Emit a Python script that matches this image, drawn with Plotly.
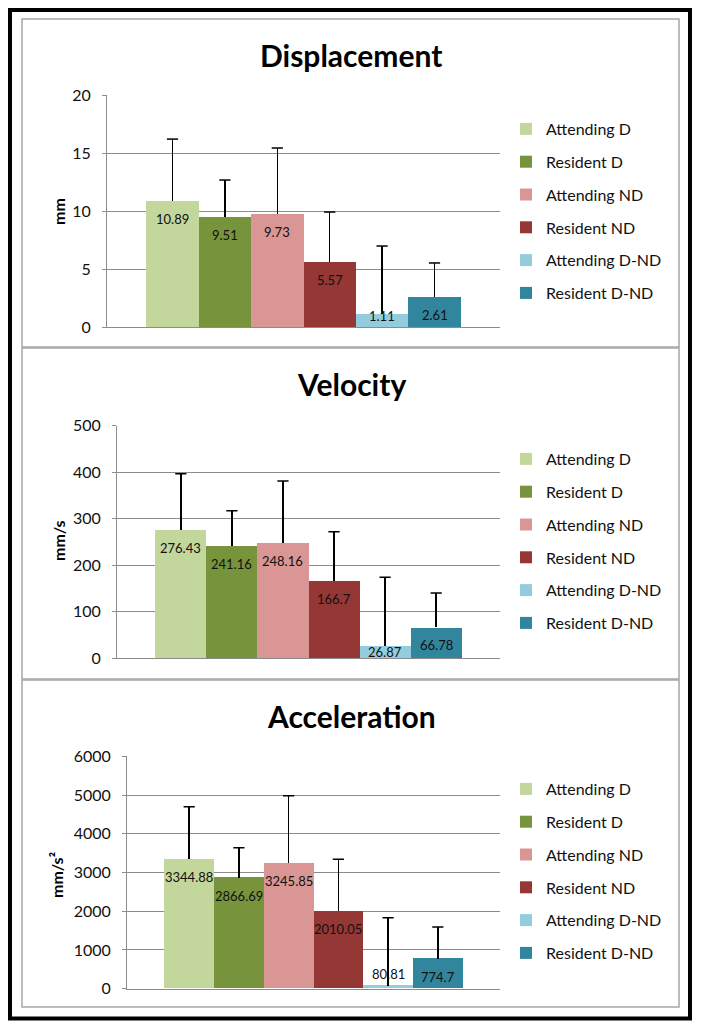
import plotly.graph_objects as go

W, H = 701, 1029
PAGE_OFFSET = 8  # default body margin of the html page

# ---------------- data ----------------
categories = ["Attending D", "Resident D", "Attending ND", "Resident ND",
              "Attending D-ND", "Resident D-ND"]

disp_mean = [10.89, 9.51, 9.73, 5.57, 1.11, 2.61]
disp_sd = [5.31, 3.16, 5.70, 4.34, 5.87, 2.91]

vel_mean = [276.43, 241.16, 248.16, 166.7, 26.87, 66.78]
vel_sd = [120.3, 76.0, 132.9, 105.4, 147.2, 73.6]

acc_mean = [3344.88, 2866.69, 3245.85, 2010.05, 80.81, 774.7]
acc_sd = [1354, 774, 1737, 1331, 1752, 818]

panel_titles = ["Displacement", "Velocity", "Acceleration"]
units = ["mm", "mm/s", "mm/s²"]
y_max = [20, 500, 6000]
y_dtick = [5, 100, 1000]

# ---------------- style ----------------
colors = ["#c3d69b", "#77933c", "#d99694", "#953735", "#93cddd", "#31859c"]
FONT = "Lato"
GRID = "#8c8c8c"

def fx(p):
    return (p - PAGE_OFFSET) / W

def fy(p):
    return 1 - (p - PAGE_OFFSET) / H

# pixel layout of each panel: plot area (x0, x1, ytop, ybottom), title y, unit label x/y, legend top
layouts = [
    dict(plot=(107, 500, 95, 327), title_y=55, unit_x=58, unit_y=212, legend_top=112,
         shifts=[-18, -18, -18, -18, -2, -18]),
    dict(plot=(117, 500, 425.7, 658.3), title_y=384, unit_x=58, unit_y=541, legend_top=442,
         shifts=[-18, -18, -18, -18, -6, -18]),
    dict(plot=(127, 500, 756.3, 988.7), title_y=716, unit_x=56, unit_y=875, legend_top=772,
         shifts=[-18, -18, -18, -18, 12, -18]),
]
panel_boxes = [(22, 679, 19, 347), (22, 679, 348, 679), (22, 679, 680, 1007)]

series = [(disp_mean, disp_sd), (vel_mean, vel_sd), (acc_mean, acc_sd)]

fig = go.Figure()
annotations = []
shapes = []
layout_axes = {}

for p, (means, sds) in enumerate(series):
    lay = layouts[p]
    x0, x1, yt, yb = lay["plot"]
    sfx = "" if p == 0 else str(p + 1)
    xa, ya = "x" + sfx, "y" + sfx
    leg = "legend" + sfx
    for i, cat in enumerate(categories):
        fig.add_trace(go.Bar(
            x=[i], y=[means[i]], width=[1.0], name=cat,
            marker=dict(color=colors[i], line=dict(width=0)),
            error_y=dict(type="data", array=[sds[i]], arrayminus=[0], symmetric=False,
                         color="black", thickness=1.5, width=0),
            xaxis=xa, yaxis=ya, legend=leg, legendgroup=f"{p}-{i}",
            showlegend=True,
        ))
        annotations.append(dict(
            x=i, y=means[i], xref=xa, yref=ya, text=str(means[i]), showarrow=False,
            yshift=lay["shifts"][i], font=dict(family=FONT, size=13, color="#111111"),
            xanchor="center", yanchor="middle",
        ))
    # caps on the upper end of the error bars only
    fig.add_trace(go.Scatter(
        x=list(range(len(categories))), y=[m + s for m, s in zip(means, sds)],
        mode="markers", marker=dict(symbol="line-ew-open", size=8, color="black",
                                    line=dict(color="black", width=1.5)),
        xaxis=xa, yaxis=ya, showlegend=False, hoverinfo="skip",
    ))
    layout_axes["xaxis" + sfx] = dict(
        domain=[fx(x0), fx(x1)], range=[-1.25, 6.25], anchor=ya,
        showticklabels=False, showgrid=False, zeroline=False,
        showline=True, linecolor=GRID, linewidth=1, ticks="",
        fixedrange=True, automargin=False,
    )
    layout_axes["yaxis" + sfx] = dict(
        domain=[fy(yb), fy(yt)], range=[0, y_max[p]], anchor=xa,
        dtick=y_dtick[p], tick0=0, showgrid=True, gridcolor=GRID, gridwidth=1,
        zeroline=False, showline=True, linecolor=GRID, linewidth=1,
        ticks="outside", ticklen=4, tickcolor=GRID, ticklabelstandoff=8,
        tickfont=dict(family=FONT, size=16, color="#111111"),
        fixedrange=True, automargin=False,
    )
    layout_axes[leg] = dict(
        x=fx(506), y=fy(lay["legend_top"]), xanchor="left", yanchor="top",
        font=dict(family=FONT, size=16, color="#111111"),
        bgcolor="rgba(0,0,0,0)", tracegroupgap=9, traceorder="grouped",
        itemclick=False, itemdoubleclick=False,
    )
    annotations.append(dict(
        x=fx(351), y=fy(lay["title_y"]), xref="paper", yref="paper",
        text="<b>" + panel_titles[p] + "</b>", showarrow=False,
        font=dict(family=FONT, size=30, color="#000000"),
        xanchor="center", yanchor="middle",
    ))
    annotations.append(dict(
        x=fx(lay["unit_x"]), y=fy(lay["unit_y"]), xref="paper", yref="paper",
        text="<b>" + units[p] + "</b>", showarrow=False, textangle=-90,
        font=dict(family=FONT, size=16, color="#000000"),
        xanchor="center", yanchor="middle",
    ))
    bx0, bx1, by0, by1 = panel_boxes[p]
    shapes.append(dict(type="rect", xref="paper", yref="paper",
                       x0=fx(bx0), x1=fx(bx1), y0=fy(by1), y1=fy(by0),
                       line=dict(color="#a6a6a6", width=1.5), layer="below"))

shapes.append(dict(type="rect", xref="paper", yref="paper",
                   x0=fx(10), x1=fx(690), y0=fy(1018.5), y1=fy(10),
                   line=dict(color="black", width=4), layer="above"))

fig.update_layout(
    width=W, height=H, autosize=False,
    margin=dict(l=0, r=0, t=0, b=0, pad=0, autoexpand=False),
    paper_bgcolor="white", plot_bgcolor="white",
    barmode="overlay", bargap=0,
    annotations=annotations, shapes=shapes,
    font=dict(family=FONT),
    **layout_axes,
)

fig.write_html("out.html")
